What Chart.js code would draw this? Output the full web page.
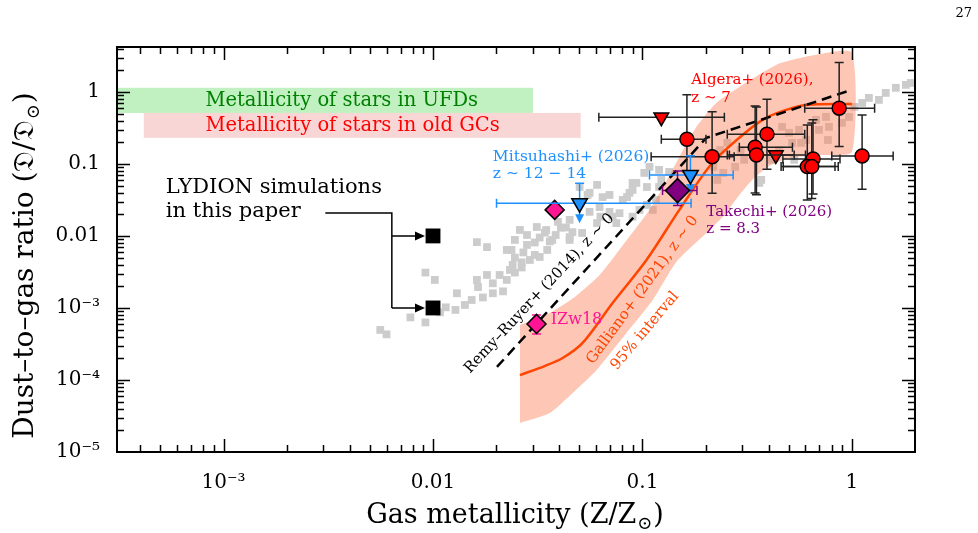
<!DOCTYPE html>
<html>
<head>
<meta charset="utf-8">
<script src="https://cdn.jsdelivr.net/npm/chart.js@4/dist/chart.umd.min.js"></script>
<style>
  body { margin: 0; background: #fff; }
  #wrap { width: 978px; height: 533px; position: relative; }
</style>
</head>
<body>
<div id="wrap"><canvas id="dtgChart"></canvas></div>
<script>
// Valores (Z/Zsun, D/Dsun)

var xMajor = [1e-3, 0.01, 0.1, 1];
var xTickLabels = ['10\u207B\u00B3', '0.01', '0.1', '1'];
var yMajor = [1e-5, 1e-4, 1e-3, 0.01, 0.1, 1];
var yTickLabels = ['10\u207B\u2075', '10\u207B\u2074', '10\u207B\u00B3', '0.01', '0.1', '1'];

// nube gris de fondo
var grayZ = [0.0056,0.0060,0.0078,0.0092,0.0092,0.0102,0.0108,0.0115,0.0128,0.0142,
  0.0153,0.0173,0.0193,0.0216,0.0130,0.0164,0.0162,0.0193,0.0181,0.0208,
  0.0225,0.0233,0.0246,0.0265,0.0290,0.0306,0.0323,0.0351,0.0240,0.0246,
  0.0265,0.0270,0.0281,0.0237,0.0246,0.0281,0.0306,0.0323,0.0342,0.0361,
  0.0385,0.0408,0.0431,0.0463,0.0449,0.0162,0.0181,0.0225,0.0260,0.0313,
  0.0347,0.0371,0.0395,0.0449,0.0449,0.0515,0.0559,0.0630,0.0696,0.0607,
  0.0750,0.0501,0.0607,0.0559,0.0645,0.0624,0.0720,0.0805,0.0867,0.0897,
  0.0547,0.0696,0.0897,0.0844,0.0777,0.0897,0.0968,0.112,0.105,0.116,
  0.120,0.134,0.123,0.105,0.0935,0.102,0.108,0.120,0.228,0.243,
  0.218,0.277,0.306,0.294,0.235,0.254,0.369,0.412,0.449,0.530,
  0.518,0.464,0.501,0.559,0.604,0.674,0.752,0.696,0.777,0.896,
  0.968,1.03,1.12,1.205,1.345,1.45,1.62,1.81,1.91,0.361,
  0.572,0.768];
var grayD = [4.95e-4,4.3e-4,7.4e-4,6.3e-4,3.1e-3,2.45e-3,8.7e-4,1.02e-3,9.4e-4,1.10e-3,
  1.29e-3,1.4e-3,1.6e-3,1.7e-3,1.6e-3,1.95e-3,2.45e-3,2.2e-3,2.87e-3,2.87e-3,
  2.45e-3,3.37e-3,3.1e-3,3.65e-3,4.64e-3,5.45e-3,5.1e-3,6.39e-3,3.96e-3,5.0e-3,
  4.3e-3,5.9e-3,7.5e-3,6.39e-3,8.8e-3,0.0103,8.1e-3,9.5e-3,0.0111,8.4e-3,
  0.0103,0.0130,0.0131,0.0113,8.8e-3,8.2e-3,7.0e-3,6.39e-3,0.0121,0.0133,
  0.0121,8.8e-3,0.0157,0.0167,9.6e-3,0.011,0.0216,0.0185,0.0216,0.0151,
  0.0151,0.0478,0.0511,0.0397,0.0346,0.0252,0.0185,0.0316,0.0397,0.0544,
  0.0371,0.0371,0.0435,0.0346,0.0207,0.0185,0.0230,0.0230,0.0270,0.0316,
  0.0826,0.0773,0.0600,0.0478,0.0544,0.075,0.0909,0.0478,0.060,0.075,
  0.0909,0.0909,0.114,0.156,0.156,0.196,0.060,0.114,0.156,0.114,
  0.196,0.327,0.270,0.297,0.215,0.409,0.449,0.297,0.327,0.372,
  0.449,0.619,0.703,0.826,0.774,0.968,1.14,1.25,1.33,0.0544,
  0.196,0.215];

// Galliano+ (2021): mediana y banda del 95%
var galZ = [0.0260,0.0341,0.0416,0.0518,0.0720,0.1045,0.150,0.2154,0.3128,0.3895,0.485,0.604,1.0];
var galD = [1.17e-4,1.56e-4,2.02e-4,3.27e-4,1.17e-3,4.64e-3,0.0230,0.103,0.278,0.435,0.562,0.660,0.681];
var bandUpZ = [0.0260,0.0361,0.0475,0.0624,0.0821,0.108,0.127,0.150,0.181,0.225,0.290,0.373,0.459,0.667,1.0];
var bandUpD = [5.81e-4,8.53e-4,1.42e-3,2.87e-3,8.0e-3,0.0230,0.0511,0.125,0.327,0.703,1.17,1.84,2.53,3.26,3.48];
var bandLoZ = [1.0,0.696,0.501,0.403,0.341,0.290,0.246,0.197,0.145,0.112,0.0839,0.0604,0.0464,0.0361,0.0260];
var bandLoD = [0.147,0.133,0.121,0.0938,0.0639,0.0371,0.0196,0.0103,4.35e-3,1.29e-3,4.5e-4,1.38e-4,6.6e-5,3.48e-5,2.53e-5];

// Remy-Ruyer+ (2014), ley de potencias quebrada
var rrZ = [0.0202, 0.2017, 1.0];
var rrD = [1.52e-4, 0.230, 1.07];

// Algera+ (2026), z ~ 7: detecciones
var algZ   = [0.163, 0.215, 0.345, 0.350, 0.393, 0.869, 1.118, 0.652, 0.612, 0.643];
var algD   = [0.220, 0.126, 0.171, 0.133, 0.259, 0.594, 0.129, 0.117, 0.0917, 0.0917];
var algZlo = [0.123, 0.110, 0.290, 0.260, 0.254, 0.595, 0.801, 0.468, 0.459, 0.470];
var algZhi = [0.201, 0.274, 0.520, 0.600, 0.595, 1.283, 1.573, 0.877, 0.830, 0.860];
var algDlo = [0.0774, 0.0392, 0.0396, 0.0372, 0.0844, 0.174, 0.0445, 0.0383, 0.0316, 0.033];
var algDhi = [0.909, 0.532, 0.639, 0.619, 0.792, 2.55, 0.479, 0.409, 0.348, 0.370];
// Algera+ (2026): limites superiores
var algLimZ = [0.123, 0.433];
var algLimD = [0.445, 0.133];
var algLimZlo = [0.0619, 0.254];
var algLimZhi = [0.246, 0.530];

// Mitsuhashi+ (2026), z ~ 12-14 (limites superiores)
var mitZ = [0.0501, 0.1694];
var mitD = [0.0285, 0.0703];
var mitZlo = [0.0201, 0.108];
var mitZhi = [0.1706, 0.271];
var mitDcap = [0.054, 0.130];
var mitDarrow = [0.015, 0.0396];

// Takechi+ (2026), z = 8.3
var takZ = [0.147];
var takD = [0.0426];
var takZlo = [0.1247], takZhi = [0.182];
var takDlo = [0.0264], takDhi = [0.080];

// diamantes rosas (IZw18 y otro)
var pinkZ = [0.0381, 0.0312];
var pinkD = [0.0230, 6.0e-4];
var pinkDlo = [null, 4.35e-4];
var pinkDhi = [null, 8.0e-4];

// simulaciones LYDION
var simZ = [0.01, 0.01];
var simD = [0.01, 0.001];

// franjas de metalicidad estelar
var ufdZ = [1e-4, 0.030], ufdD = [0.51, 1.14];
var gcZ = [4.16e-4, 0.0507], gcD = [0.23, 0.51];

var serif = '"DejaVu Serif", "Liberation Serif", serif';

function toPoints(zs, ds) {
    return zs.map(function(z, i) { return { x: z, y: ds[i] }; });
}

// Franjas de fondo (UFDs / GCs) con su texto
var bandsPlugin = {
    id: 'bandsPlugin',
    beforeDatasetsDraw: function(chart) {
        var ctx = chart.ctx, a = chart.chartArea, xs = chart.scales.x, ys = chart.scales.y;
        ctx.save();
        ctx.beginPath();
        ctx.rect(a.left, a.top, a.width, a.height);
        ctx.clip();
        var boxes = [
            { z: ufdZ, d: ufdD, fill: '#c1f0c1', color: '#008000', text: 'Metallicity of stars in UFDs' },
            { z: gcZ, d: gcD, fill: '#f9d6d6', color: '#ff0000', text: 'Metallicity of stars in old GCs' }
        ];
        boxes.forEach(function(b) {
            var x1 = xs.getPixelForValue(b.z[0]), x2 = xs.getPixelForValue(b.z[1]);
            var y1 = ys.getPixelForValue(b.d[1]), y2 = ys.getPixelForValue(b.d[0]);
            ctx.fillStyle = b.fill;
            ctx.fillRect(x1, y1, x2 - x1, y2 - y1);
            ctx.fillStyle = b.color;
            ctx.font = '19.5px ' + serif;
            ctx.textAlign = 'left';
            ctx.textBaseline = 'middle';
            ctx.fillText(b.text, xs.getPixelForValue(8.2e-4), (y1 + y2) / 2 + 1);
        });
        ctx.restore();
    }
};

// Barras de error dibujadas justo antes de cada conjunto de marcadores
var errorBarPlugin = {
    id: 'errorBarPlugin',
    beforeDatasetDraw: function(chart, args) {
        var ds = chart.data.datasets[args.index];
        if (!ds.errorBars) return;
        var ctx = chart.ctx, xs = chart.scales.x, ys = chart.scales.y;
        var cap = 4.5;
        ctx.save();
        ctx.strokeStyle = ds.errorColor;
        ctx.fillStyle = ds.errorColor;
        ctx.lineWidth = 1.5;
        ds.errorBars.forEach(function(e, i) {
            var p = ds.data[i];
            var cx = xs.getPixelForValue(p.x), cy = ys.getPixelForValue(p.y);
            var ya = null;
            ctx.beginPath();
            if (e.zlo != null) {
                var x1 = xs.getPixelForValue(e.zlo), x2 = xs.getPixelForValue(e.zhi);
                ctx.moveTo(x1, cy); ctx.lineTo(x2, cy);
                ctx.moveTo(x1, cy - cap); ctx.lineTo(x1, cy + cap);
                ctx.moveTo(x2, cy - cap); ctx.lineTo(x2, cy + cap);
            }
            if (e.dlo != null) {
                var y1 = ys.getPixelForValue(e.dlo), y2 = ys.getPixelForValue(e.dhi);
                ctx.moveTo(cx, y1); ctx.lineTo(cx, y2);
                ctx.moveTo(cx - cap, y1); ctx.lineTo(cx + cap, y1);
                ctx.moveTo(cx - cap, y2); ctx.lineTo(cx + cap, y2);
            }
            if (e.dcap != null) {
                var yc = ys.getPixelForValue(e.dcap);
                ya = ys.getPixelForValue(e.darrow);
                ctx.moveTo(cx, yc); ctx.lineTo(cx, ya - 6);
                ctx.moveTo(cx - cap, yc); ctx.lineTo(cx + cap, yc);
            }
            ctx.stroke();
            if (ya != null) {
                ctx.beginPath();
                ctx.moveTo(cx - 4.5, ya - 9);
                ctx.lineTo(cx + 4.5, ya - 9);
                ctx.lineTo(cx, ya);
                ctx.closePath();
                ctx.fill();
            }
        });
        ctx.restore();
    }
};

// Marco y marcas hacia dentro en los cuatro lados
var framePlugin = {
    id: 'framePlugin',
    afterDatasetsDraw: function(chart) {
        var ctx = chart.ctx, a = chart.chartArea, xs = chart.scales.x, ys = chart.scales.y;
        ctx.save();
        ctx.strokeStyle = '#000';
        ctx.lineWidth = 1.5;
        ctx.beginPath();
        for (var e = -5; e <= 1; e++) {
            for (var m = 1; m <= 9; m++) {
                var v = m * Math.pow(10, e);
                var len = (m === 1) ? 13 : 7;
                if (v > xs.min && v < xs.max) {
                    var px = Math.round(xs.getPixelForValue(v)) + 0.5;
                    ctx.moveTo(px, a.bottom); ctx.lineTo(px, a.bottom - len);
                    ctx.moveTo(px, a.top); ctx.lineTo(px, a.top + len);
                }
                if (v > ys.min && v < ys.max) {
                    var py = Math.round(ys.getPixelForValue(v)) + 0.5;
                    ctx.moveTo(a.left, py); ctx.lineTo(a.left + len, py);
                    ctx.moveTo(a.right, py); ctx.lineTo(a.right - len, py);
                }
            }
        }
        ctx.stroke();
        ctx.lineWidth = 2;
        ctx.strokeRect(a.left, a.top, a.width, a.height);
        ctx.restore();
    }
};

// Textos y flechas de anotacion
var labelPlugin = {
    id: 'labelPlugin',
    afterDatasetsDraw: function(chart) {
        var ctx = chart.ctx, xs = chart.scales.x, ys = chart.scales.y;
        var labels = [
            { text: 'Algera+ (2026),', z: 0.171, d: 1.47, color: '#ff0000', size: 15 },
            { text: 'z \u223C 7', z: 0.171, d: 0.826, color: '#ff0000', size: 15 },
            { text: 'Mitsuhashi+ (2026)', z: 0.0193, d: 0.125, color: '#1e90ff', size: 15.5 },
            { text: 'z \u223C 12 \u2212 14', z: 0.0193, d: 0.0726, color: '#1e90ff', size: 15.5 },
            { text: 'Takechi+ (2026)', z: 0.2017, d: 0.0216, color: '#800080', size: 15 },
            { text: 'z = 8.3', z: 0.2017, d: 0.0125, color: '#800080', size: 15 },
            { text: 'IZw18', z: 0.0365, d: 6.8e-4, color: '#ff1493', size: 16 },
            { text: 'LYDION simulations', z: 5.3e-4, d: 0.0464, color: '#000', size: 21 },
            { text: 'in this paper', z: 5.3e-4, d: 0.0216, color: '#000', size: 21 }
        ];
        var rotated = [
            { text: 'Remy\u2013Ruyer+ (2014), z \u223C 0', z: 0.0322, d: 1.59e-3, angle: -47, color: '#000' },
            { text: 'Galliano+ (2021), z \u223C 0', z: 0.1, d: 1.78e-3, angle: -54, color: '#ff4500' },
            { text: '95% interval', z: 0.1028, d: 4.8e-4, angle: -50, color: '#ff4500' }
        ];
        ctx.save();
        ctx.textBaseline = 'middle';
        ctx.textAlign = 'left';
        labels.forEach(function(l) {
            ctx.font = l.size + 'px ' + serif;
            ctx.fillStyle = l.color;
            ctx.fillText(l.text, xs.getPixelForValue(l.z), ys.getPixelForValue(l.d));
        });
        ctx.textAlign = 'center';
        rotated.forEach(function(l) {
            ctx.save();
            ctx.translate(xs.getPixelForValue(l.z), ys.getPixelForValue(l.d));
            ctx.rotate(l.angle * Math.PI / 180);
            ctx.font = '15px ' + serif;
            ctx.fillStyle = l.color;
            ctx.fillText(l.text, 0, 0);
            ctx.restore();
        });

        // conector LYDION -> cuadrados negros
        var xStart = xs.getPixelForValue(0.00306);
        var xCorner = xs.getPixelForValue(0.00636);
        var yLine = ys.getPixelForValue(0.0209);
        var tipX = xs.getPixelForValue(simZ[0]) - 8;
        ctx.strokeStyle = '#000';
        ctx.fillStyle = '#000';
        ctx.lineWidth = 1.5;
        ctx.beginPath();
        ctx.moveTo(xStart, yLine);
        ctx.lineTo(xCorner, yLine);
        ctx.lineTo(xCorner, ys.getPixelForValue(simD[1]));
        simD.forEach(function(d) {
            var y = ys.getPixelForValue(d);
            ctx.moveTo(xCorner, y);
            ctx.lineTo(tipX - 8, y);
        });
        ctx.stroke();
        simD.forEach(function(d) {
            var y = ys.getPixelForValue(d);
            ctx.beginPath();
            ctx.moveTo(tipX - 10, y - 4.5);
            ctx.lineTo(tipX, y);
            ctx.lineTo(tipX - 10, y + 4.5);
            ctx.closePath();
            ctx.fill();
        });
        ctx.restore();
    }
};

// Titulos de ejes con subindice solar
function drawWithSub(ctx, main, sub, tail, cx, baseY, size) {
    var big = size + 'px ' + serif, small = Math.round(size * 0.65) + 'px ' + serif;
    ctx.font = big;
    var w1 = ctx.measureText(main).width, w3 = ctx.measureText(tail).width;
    ctx.font = small;
    var w2 = ctx.measureText(sub).width;
    var x = cx - (w1 + w2 + w3) / 2;
    ctx.font = big;
    ctx.fillText(main, x, baseY);
    ctx.font = small;
    ctx.fillText(sub, x + w1 + 1, baseY + size * 0.22);
    ctx.font = big;
    ctx.fillText(tail, x + w1 + w2 + 2, baseY);
}

var titlePlugin = {
    id: 'titlePlugin',
    afterDraw: function(chart) {
        var ctx = chart.ctx, a = chart.chartArea;
        ctx.save();
        ctx.fillStyle = '#000';
        ctx.textAlign = 'left';
        ctx.textBaseline = 'alphabetic';
        drawWithSub(ctx, 'Gas metallicity (Z/Z', '\u2299', ')', 514, 523, 27);
        ctx.save();
        ctx.translate(33, (a.top + a.bottom) / 2 + 17);
        ctx.rotate(-Math.PI / 2);
        drawWithSub(ctx, 'Dust\u2013to\u2013gas ratio (\uD835\uDD07/\uD835\uDD07', '\u2299', ')', 0, 0, 28);
        ctx.restore();
        ctx.font = '13px ' + serif;
        ctx.textAlign = 'right';
        ctx.fillText('27', 972, 17);
        ctx.restore();
    }
};

var errAlg = algZ.map(function(z, i) {
    return { zlo: algZlo[i], zhi: algZhi[i], dlo: algDlo[i], dhi: algDhi[i] };
});
var errAlgLim = algLimZ.map(function(z, i) {
    return { zlo: algLimZlo[i], zhi: algLimZhi[i] };
});
var errMit = mitZ.map(function(z, i) {
    return { zlo: mitZlo[i], zhi: mitZhi[i], dcap: mitDcap[i], darrow: mitDarrow[i] };
});
var errTak = takZ.map(function(z, i) {
    return { zlo: takZlo[i], zhi: takZhi[i], dlo: takDlo[i], dhi: takDhi[i] };
});
var errPink = pinkZ.map(function(z, i) {
    return { dlo: pinkDlo[i], dhi: pinkDhi[i] };
});

var bandPoly = toPoints(bandUpZ, bandUpD).concat(toPoints(bandLoZ, bandLoD));

var ctxEl = document.getElementById('dtgChart');
var chart = new Chart(ctxEl, {
    type: 'scatter',
    data: {
        datasets: [
            {
                label: 'LYDION', data: toPoints(simZ, simD), order: 0,
                pointStyle: 'rect', pointRadius: 10.5, backgroundColor: '#000', borderColor: '#000', borderWidth: 0
            },
            {
                label: 'Takechi+ (2026)', data: toPoints(takZ, takD), order: 1,
                pointStyle: 'rectRot', pointRadius: 12, backgroundColor: '#800080', borderColor: '#000', borderWidth: 1.5,
                errorBars: errTak, errorColor: '#800080'
            },
            {
                label: 'Mitsuhashi+ (2026)', data: toPoints(mitZ, mitD), order: 2,
                pointStyle: 'triangle', rotation: 180, pointRadius: 9, backgroundColor: '#1e90ff', borderColor: '#000', borderWidth: 1.5,
                errorBars: errMit, errorColor: '#1e90ff'
            },
            {
                label: 'IZw18', data: toPoints(pinkZ, pinkD), order: 3,
                pointStyle: 'rectRot', pointRadius: 9.5, backgroundColor: '#ff1493', borderColor: '#000', borderWidth: 1.5,
                errorBars: errPink, errorColor: '#ff1493'
            },
            {
                label: 'Algera+ (2026)', data: toPoints(algZ, algD), order: 4,
                pointStyle: 'circle', pointRadius: 7, backgroundColor: '#ff0000', borderColor: '#000', borderWidth: 1.5,
                errorBars: errAlg, errorColor: '#222'
            },
            {
                label: 'Algera+ (2026) limits', data: toPoints(algLimZ, algLimD), order: 5,
                pointStyle: 'triangle', rotation: 180, pointRadius: 8.5, backgroundColor: '#ff0000', borderColor: '#000', borderWidth: 1.5,
                errorBars: errAlgLim, errorColor: '#222'
            },
            {
                label: 'Remy-Ruyer+ (2014)', data: toPoints(rrZ, rrD), order: 6, showLine: true,
                borderColor: '#000', borderWidth: 2.5, borderDash: [10, 6], pointRadius: 0, fill: false
            },
            {
                label: 'Galliano+ (2021)', data: toPoints(galZ, galD), order: 7, showLine: true,
                borderColor: '#ff4500', borderWidth: 2.5, pointRadius: 0, tension: 0.3, fill: false
            },
            {
                label: '95% interval', data: bandPoly, order: 8, showLine: true, fill: 'shape',
                backgroundColor: 'rgba(250, 128, 90, 0.45)', borderColor: 'rgba(0,0,0,0)', borderWidth: 0,
                pointRadius: 0, tension: 0.2
            },
            {
                label: 'gray', data: toPoints(grayZ, grayD), order: 9,
                pointStyle: 'rect', pointRadius: 5.5, backgroundColor: '#cccccc', borderWidth: 0
            }
        ]
    },
    options: {
        responsive: true,
        maintainAspectRatio: false,
        animation: false,
        devicePixelRatio: 1,
        events: [],
        layout: { padding: { top: 47, right: 63, left: 0, bottom: 0 } },
        plugins: {
            legend: { display: false },
            tooltip: { enabled: false }
        },
        scales: {
            x: {
                type: 'logarithmic',
                min: 3.1e-4,
                max: 2,
                bounds: 'data',
                grid: { display: false },
                border: { display: false },
                afterFit: function(scale) { scale.height = 81; },
                afterBuildTicks: function(scale) {
                    scale.ticks = xMajor.map(function(v) { return { value: v, major: true }; });
                },
                ticks: {
                    autoSkip: false, maxRotation: 0, padding: 11, color: '#000',
                    font: { family: serif, size: 20 },
                    callback: function(v) {
                        var i = xMajor.indexOf(v);
                        return i < 0 ? '' : xTickLabels[i];
                    }
                }
            },
            y: {
                type: 'logarithmic',
                min: 1e-5,
                max: 4.2,
                bounds: 'data',
                grid: { display: false },
                border: { display: false },
                afterFit: function(scale) { scale.width = 117; },
                afterBuildTicks: function(scale) {
                    scale.ticks = yMajor.map(function(v) { return { value: v, major: true }; });
                },
                ticks: {
                    autoSkip: false, padding: 9, color: '#000',
                    font: { family: serif, size: 20 },
                    callback: function(v) {
                        var i = yMajor.indexOf(v);
                        return i < 0 ? '' : yTickLabels[i];
                    }
                }
            }
        }
    },
    plugins: [bandsPlugin, errorBarPlugin, framePlugin, labelPlugin, titlePlugin]
});
</script>
</body>
</html>
